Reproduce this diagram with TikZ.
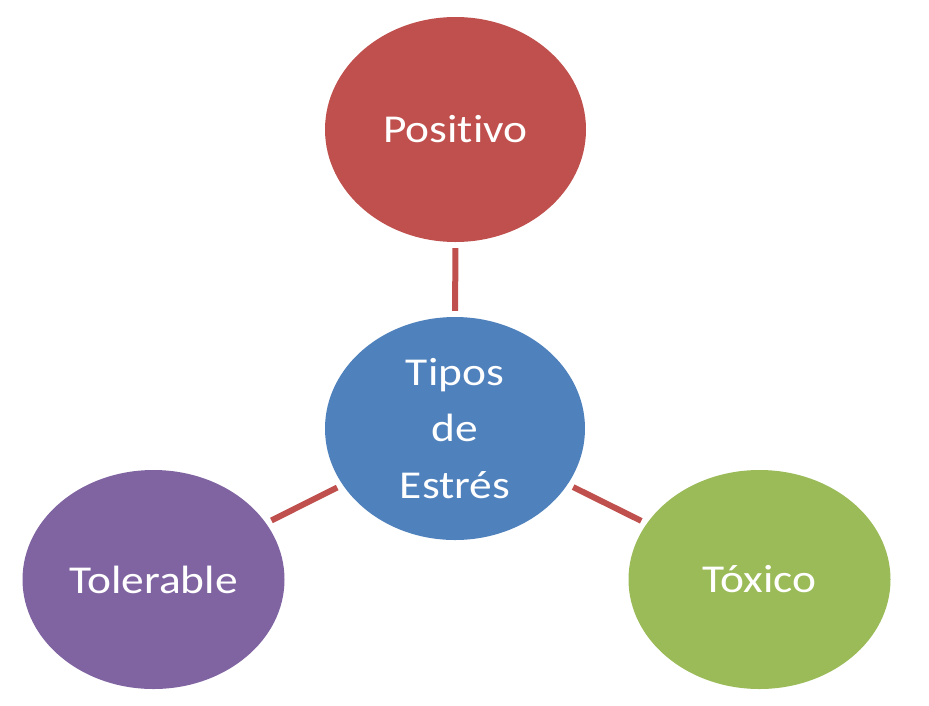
\documentclass[tikz,border=0pt]{standalone}
\usepackage{fontspec}
\setmainfont{Carlito}[Ligatures={NoCommon}]
\usetikzlibrary{shapes.geometric}
\definecolor{cred}{HTML}{C0504D}
\definecolor{cblue}{HTML}{4F81BD}
\definecolor{cpurple}{HTML}{8064A2}
\definecolor{cgreen}{HTML}{9BBB59}
\newcommand{\widetxt}[1]{\scalebox{1.15}[1]{#1}}
\tikzset{
  bubble/.style={ellipse, inner sep=0pt, text=white, align=center,
    font=\fontsize{39.5}{56.5}\selectfont},
  link/.style={draw=cred, line width=6pt, shorten >=6pt, shorten <=6pt}
}
\begin{document}
\begin{tikzpicture}[x=1pt,y=-1pt]
\useasboundingbox[fill=white] (0,0) rectangle (929,705);
\node[bubble, fill=cred, minimum width=261pt, minimum height=225pt] (pos) at (455.5,129.5) {\widetxt{Positivo}};
\node[bubble, fill=cblue, minimum width=260pt, minimum height=223pt] (ctr) at (455,428.5) {\widetxt{Tipos}\\\widetxt{de}\\\widetxt{Estrés}};
\node[bubble, fill=cpurple, minimum width=262pt, minimum height=219pt] (tol) at (153.5,579.5) {\widetxt{Tolerable}};
\node[bubble, fill=cgreen, minimum width=262pt, minimum height=219pt] (tox) at (759.5,579.5) {\widetxt{Tóxico}};
\draw[link] (pos) -- (ctr);
\draw[link] (tol) -- (ctr);
\draw[link] (tox) -- (ctr);
\end{tikzpicture}
\end{document}
